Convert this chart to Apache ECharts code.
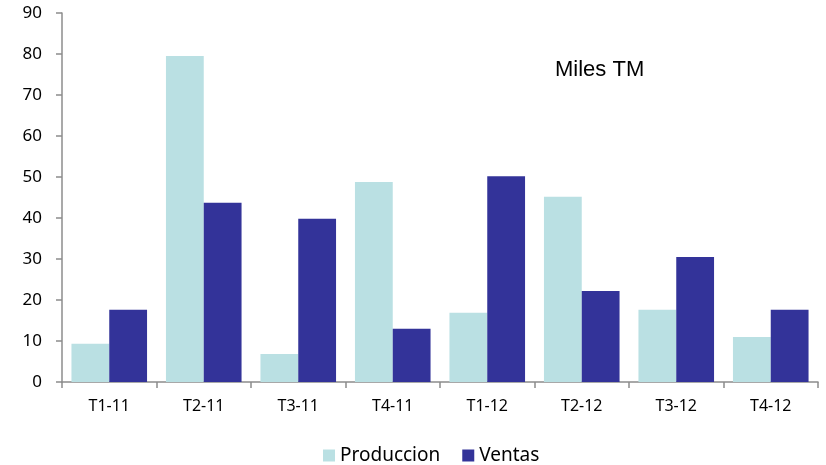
<!DOCTYPE html>
<html><head><meta charset="utf-8">
<script src="https://cdn.jsdelivr.net/npm/echarts@6/dist/echarts.min.js"></script>
<style>html,body{margin:0;padding:0;background:#fff}#c{width:826px;height:465px}</style>
</head><body><div id="c"></div>
<script>
const categories = ['T1-11','T2-11','T3-11','T4-11','T1-12','T2-12','T3-12','T4-12'];
const produccion = [9.3, 79.5, 6.8, 48.8, 16.9, 45.2, 17.6, 11.0];
const ventas = [17.6, 43.7, 39.8, 13.0, 50.2, 22.2, 30.5, 17.6];
const seriesNames = ['Produccion','Ventas'];
const unitLabel = 'Miles TM';

const chart = echarts.init(document.getElementById('c'));
const axisStyle = {lineStyle:{color:'#8c8c8c', width:1.5}};
chart.setOption({
  animation:false,
  grid:{left:62, right:8, top:13, bottom:83, containLabel:false},
  graphic:[{type:'text', left:555, top:59, style:{text:unitLabel, fontFamily:'Liberation Sans', fontSize:22, fill:'#000'}}],
  legend:{top:441, left:318, itemWidth:12, itemHeight:12, itemGap:22, icon:'rect',
    textStyle:{fontFamily:'"Noto Sans"', fontSize:19, color:'#000'}},
  xAxis:{type:'category', data:categories,
    axisLine:{show:true, ...axisStyle},
    axisTick:{show:true, length:6, lineStyle:{color:'#8c8c8c', width:1.5}},
    axisLabel:{fontFamily:'"Noto Sans"', fontSize:16, color:'#000', margin:16}},
  yAxis:{type:'value', min:0, max:90, interval:10,
    axisLine:{show:true, ...axisStyle},
    axisTick:{show:true, length:6, lineStyle:{color:'#8c8c8c', width:1.5}},
    splitLine:{show:false},
    axisLabel:{fontFamily:'"Noto Sans"', fontSize:17, color:'#000', margin:20}},
  series:[
    {name:seriesNames[0], type:'bar', data:produccion, barGap:'0%', barCategoryGap:'20%', itemStyle:{color:'#bae0e3'}},
    {name:seriesNames[1], type:'bar', data:ventas, barGap:'0%', barCategoryGap:'20%', itemStyle:{color:'#333399'}}
  ]
});
</script></body></html>
